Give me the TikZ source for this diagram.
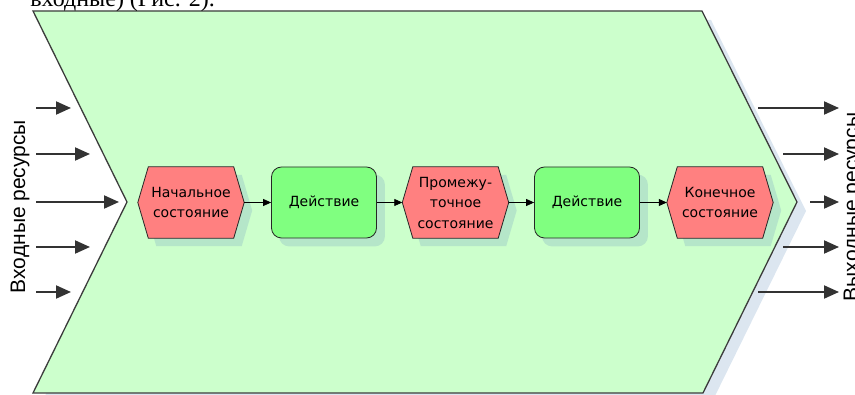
\documentclass[tikz,border=0pt]{standalone}
\usepackage{fontspec}
\setmainfont{DejaVu Sans}
\newfontfamily\labelfont{Liberation Sans}
\newfontfamily\captionserif{Liberation Serif}
\usetikzlibrary{arrows.meta}

\definecolor{chevfill}{RGB}{204,255,204}
\definecolor{statefill}{RGB}{255,128,128}
\definecolor{actfill}{RGB}{128,255,128}
\definecolor{shadecol}{RGB}{116,156,196}
\definecolor{edgecol}{RGB}{60,60,60}

\pgfdeclarelayer{bg}
\pgfdeclarelayer{shadows}
\pgfdeclarelayer{shapes}
\pgfsetlayers{bg,shadows,shapes,main}

\begin{document}
\begin{tikzpicture}[x=1pt,y=-1pt,
  shadowfill/.style={fill=shadecol,fill opacity=0.25,draw=none},
  boxtext/.style={font=\fontsize{14}{20.5}\selectfont,align=center,inner sep=0pt,
    minimum height=71pt,text=black},
  statebox/.style={boxtext,minimum width=106pt},
  statefillstyle/.style={fill=statefill,draw=black!85,line width=0.8pt,line join=miter},
  actbox/.style={boxtext,minimum width=105pt,draw=black!85,line width=0.8pt,
    fill=actfill,rounded corners=10pt},
  flow/.style={draw=black,line width=0.8pt,-{Triangle[length=8pt,width=7pt]}},
  resource/.style={draw=black!80,line width=2pt,-{Triangle[length=15pt,width=13pt]}},
  sidelabel/.style={rotate=90,anchor=base,inner sep=0pt,
    font=\labelfont\fontsize{21}{21}\selectfont}
]
\useasboundingbox (0,0) rectangle (855,395);
\clip (0,0) rectangle (855,395);

% caption line running into the top edge
\node[anchor=base east,inner sep=0pt,font=\captionserif\fontsize{24}{24}\selectfont]
  (caption) at (215,7) {входные) (Рис. 2).};

% process chevron with its shadow
\begin{pgfonlayer}{bg}
  \fill[shadowfill] (42,20) -- (711,20) -- (806,211) -- (712,402) -- (42,402) -- (136,211) -- cycle;
  \filldraw[fill=chevfill,draw=edgecol,line width=1.3pt,line join=miter]
    (33,11) -- (702,11) -- (797,202) -- (703,393) -- (33,393) -- (127,202) -- cycle;
\end{pgfonlayer}

% states and actions
\node[statebox] (s1) at (191,202.5) {Начальное\\состояние};
\node[actbox]   (a1) at (324,202.5) {Действие};
\node[statebox] (s2) at (455.5,202.5) {Промежу-\\точное\\состояние};
\node[actbox]   (a2) at (587,202.5) {Действие};
\node[statebox] (s3) at (720,202.5) {Конечное\\состояние};

\foreach \n in {s1,s2,s3}{
  \begin{pgfonlayer}{shadows}
    \fill[shadowfill] ([shift={(8,8)}]\n.west) -- ([shift={(18.5,8)}]\n.north west)
      -- ([shift={(-2.5,8)}]\n.north east) -- ([shift={(8,8)}]\n.east)
      -- ([shift={(-2.5,8)}]\n.south east) -- ([shift={(18.5,8)}]\n.south west) -- cycle;
  \end{pgfonlayer}
  \begin{pgfonlayer}{shapes}
    \filldraw[statefillstyle] (\n.west) -- ([xshift=10.5pt]\n.north west)
      -- ([xshift=-10.5pt]\n.north east) -- (\n.east)
      -- ([xshift=-10.5pt]\n.south east) -- ([xshift=10.5pt]\n.south west) -- cycle;
  \end{pgfonlayer}
}
\foreach \n in {a1,a2}{
  \begin{pgfonlayer}{shadows}
    \fill[shadowfill,rounded corners=10pt] ([shift={(8,8)}]\n.north west)
      rectangle ([shift={(8,8)}]\n.south east);
  \end{pgfonlayer}
}

% flow between the steps
\draw[flow] (s1) -- (a1);
\draw[flow] (a1) -- (s2);
\draw[flow] (s2) -- (a2);
\draw[flow] (a2) -- (s3);

% incoming resources
\coordinate (in1s) at (36,108);  \coordinate (in1e) at (71,108);
\coordinate (in2s) at (36,154);  \coordinate (in2e) at (90,154);
\coordinate (in3s) at (36,202);  \coordinate (in3e) at (119,202);
\coordinate (in4s) at (36,247);  \coordinate (in4e) at (90,247);
\coordinate (in5s) at (36,292);  \coordinate (in5e) at (71,292);
\foreach \k in {1,...,5}{\draw[resource] (in\k s) -- (in\k e);}

% outgoing resources
\coordinate (out1s) at (758,108); \coordinate (out1e) at (839,108);
\coordinate (out2s) at (783,154); \coordinate (out2e) at (839,154);
\coordinate (out3s) at (810,202); \coordinate (out3e) at (839,202);
\coordinate (out4s) at (783,247); \coordinate (out4e) at (839,247);
\coordinate (out5s) at (758,292); \coordinate (out5e) at (839,292);
\foreach \k in {1,...,5}{\draw[resource] (out\k s) -- (out\k e);}

% side labels
\node[sidelabel] (inlabel) at (25,206.5) {Входные ресурсы};
\node[sidelabel] (outlabel) at (858,207) {Выходные ресурсы};
\end{tikzpicture}
\end{document}
